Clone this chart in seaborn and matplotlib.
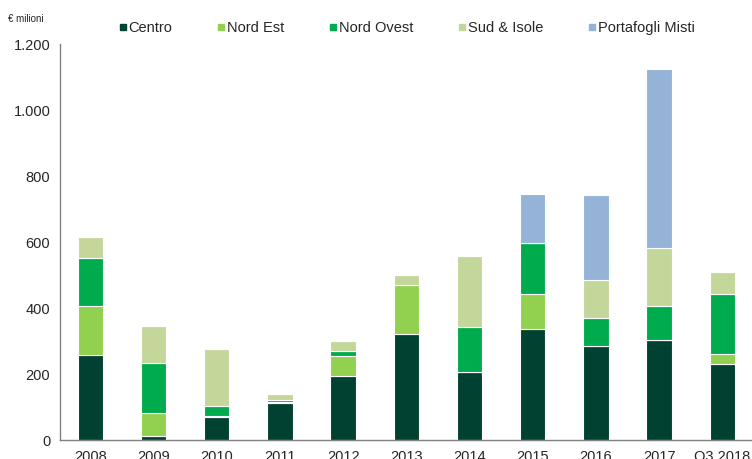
import matplotlib
matplotlib.use("Agg")
import matplotlib.pyplot as plt
import seaborn as sns
import numpy as np
from matplotlib.lines import Line2D
from matplotlib.ticker import FuncFormatter, FixedLocator

categories = ["2008", "2009", "2010", "2011", "2012", "2013", "2014", "2015", "2016", "2017", "Q3 2018"]
centro      = [258, 13, 70, 111, 195, 321, 206, 335, 286, 303, 230]
nord_est    = [149, 70, 2, 5, 59, 150, 0, 106, 0, 0, 31]
nord_ovest  = [145, 151, 32, 6, 16, 0, 137, 156, 84, 102, 182]
sud_isole   = [62, 111, 172, 18, 30, 29, 214, 0, 115, 176, 66]
portafogli  = [0, 0, 0, 0, 0, 0, 0, 148, 256, 543, 0]

series_names = ["Centro", "Nord Est", "Nord Ovest", "Sud & Isole", "Portafogli Misti"]
series_vals = [centro, nord_est, nord_ovest, sud_isole, portafogli]
colors = ["#004131", "#92D050", "#00AB4E", "#C4D79B", "#95B3D7"]

sns.set_style("white")
plt.rcParams["font.family"] = ["Liberation Sans", "DejaVu Sans"]

fig = plt.figure(figsize=(7.52, 4.59), dpi=100)
ax = fig.add_axes([60/752, 19/459, 692/752, 396/459])

bottom = np.zeros(len(categories))
for name, vals, col in zip(series_names, series_vals, colors):
    v = np.array(vals, dtype=float)
    sns.barplot(x=categories, y=v, bottom=bottom, color=col, width=0.4,
                edgecolor="white", linewidth=0.8, ax=ax, saturation=1)
    bottom = bottom + v

ax.set_xlim(-0.48, 10.47)
ax.set_ylim(0, 1200)
ax.set_yticks(range(0, 1201, 200))
ax.yaxis.set_major_formatter(FuncFormatter(lambda v, p: f"{int(v):,}".replace(",", ".")))
ax.set_xticks(range(len(categories)))
ax.set_xticklabels(categories)
ax.xaxis.set_minor_locator(FixedLocator(np.arange(0.5, 10.5, 1)))
ax.tick_params(axis="x", which="major", length=0, pad=7, labelsize=10.5)
ax.tick_params(axis="x", which="minor", length=4, color="#808080", direction="out")
ax.tick_params(axis="y", length=4, color="#808080", direction="out", labelsize=10.5, pad=3)
ax.set_xlabel("")
ax.set_ylabel("")
for s in ["top", "right"]:
    ax.spines[s].set_visible(False)
for s in ["left", "bottom"]:
    ax.spines[s].set_color("#808080")
    ax.spines[s].set_linewidth(1)

fig.text(8/752, 1 - 19/459, "€ milioni", fontsize=7, va="center", ha="left")

handles = [Line2D([0], [0], marker="s", linestyle="", markersize=4.5,
                  markerfacecolor=c, markeredgecolor=c) for c in colors]
fig.legend(handles, series_names, loc="center left", bbox_to_anchor=(112.5/752, 1 - 28/459),
           ncol=5, frameon=False, fontsize=10.5, handletextpad=0.1,
           columnspacing=3.05, handlelength=0.6, borderaxespad=0)

fig.savefig("out.png", dpi=100)
